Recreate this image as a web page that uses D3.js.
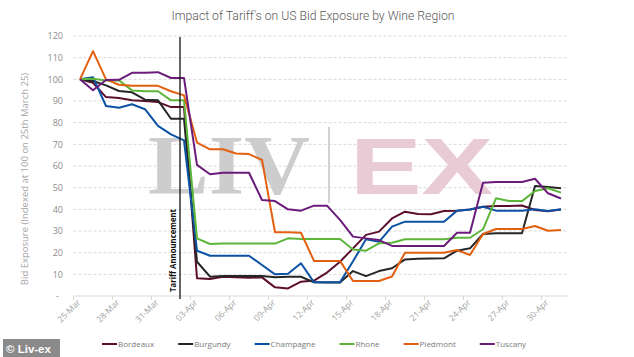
<!DOCTYPE html>
<html><head><meta charset="utf-8">
<script src="https://cdn.jsdelivr.net/npm/d3@7"></script>
<style>body{margin:0;background:#fff;overflow:hidden}</style>
</head><body><svg id="c" width="634" height="357"></svg>
<script>
const dates = ["25-Mar","26-Mar","27-Mar","28-Mar","29-Mar","30-Mar","31-Mar",
  "01-Apr","02-Apr","03-Apr","04-Apr","05-Apr","06-Apr","07-Apr","08-Apr","09-Apr","10-Apr",
  "11-Apr","12-Apr","13-Apr","14-Apr","15-Apr","16-Apr","17-Apr","18-Apr","19-Apr","20-Apr",
  "21-Apr","22-Apr","23-Apr","24-Apr","25-Apr","26-Apr","27-Apr","28-Apr","29-Apr","30-Apr","01-May"];
const tickLabels = ["25-Mar","28-Mar","31-Mar","03-Apr","06-Apr","09-Apr","12-Apr","15-Apr","18-Apr","21-Apr","24-Apr","27-Apr","30-Apr"];
const yTicks = [0,10,20,30,40,50,60,70,80,90,100,110,120];
const seriesNames = ["Bordeaux","Burgundy","Champagne","Rhone","Piedmont","Tuscany"];
const seriesColors = ["#5b0e2d","#262626","#0b52a3","#5db53a","#e2600f","#6b1c7b"];
const tariffDate = "02-Apr";
const tariffLabel = "Tariff Announcement";

const bordeaux  = [100,98.4,91.8,91.4,90.3,90,89.5,87.2,87.2,8.2,7.8,8.9,8.6,8.4,8.6,4,3.5,6.6,7.1,10.8,15.8,22,28.2,29.7,35.8,38.9,37.8,37.7,39.2,39.4,39.9,41.2,41.5,41.5,41.8,39.7,39.1,39.9];
const burgundy  = [100,99.2,97.2,94.6,94,90.6,90.3,81.8,81.8,15.8,8.9,9.2,9.2,9.2,9.2,8.6,8.9,8.9,6.3,6.2,6.2,11.5,9.2,11.5,12.8,16.9,17.2,17.3,17.4,20.9,22,28.6,29,29,29,50.8,50.3,49.7];
const champagne = [100,101,87.7,86.9,88.5,86.2,78.5,74.6,71.8,20.9,18.6,18.6,18.6,18.6,14.3,10,10.3,15.1,6.3,6.3,6.3,16,26.2,25,32,34.3,34.3,34.3,34.3,39.4,39.9,41.2,39.4,39.4,39.4,40,39.2,40];
const rhone     = [100,100.3,99.5,99.5,94.9,94.5,94.5,90.3,90.3,26.6,24,24.2,24.2,24.2,24.2,24.2,26.6,26.3,26.3,26.3,26.3,21.5,20.9,24.3,24.6,26.2,26.2,26.2,26.2,26.9,26.9,30.8,45.1,43.8,43.8,48.5,49.7,47.7];
const piedmont  = [100,113,100,97.5,97,97,97,94.5,92.6,70.8,67.7,67.7,65.8,65.5,62.8,29.4,29.4,29.2,16.2,16.2,16.2,6.9,6.9,6.9,9,20,20,20,20,21.2,18.9,28.6,30.9,30.9,30.9,32.3,30.1,30.5];
const tuscany   = [100,95,99.7,99.8,103,103,103.3,100.6,100.6,60.5,56.2,56.9,56.9,56.9,44.3,43.8,40,39.4,41.7,41.7,35.1,27.4,26.6,25.8,23.1,23.1,23.1,23.1,23.1,29.2,29.2,52.3,52.6,52.6,52.6,54.1,47.4,45];
const seriesValues = [bordeaux,burgundy,champagne,rhone,piedmont,tuscany];

const svg = d3.select("#c");
const x = d3.scaleBand().domain(dates).range([73.5, 567.5]).paddingInner(0).paddingOuter(0);
const y = d3.scaleLinear().domain([0,120]).range([296,36]);
const cx = d => x(d) + x.bandwidth()/2;
const gridRight = 569;

// title
svg.append("text").attr("x",313).attr("y",20).attr("text-anchor","middle")
  .attr("font-family","Roboto, 'Open Sans', sans-serif").attr("font-weight",300)
  .attr("font-size",13).attr("fill","#595959")
  .attr("textLength",283).attr("lengthAdjust","spacingAndGlyphs")
  .text("Impact of Tariff's on US Bid Exposure by Wine Region");

// gridlines
svg.append("g").selectAll("line").data(yTicks.filter(t=>t>0)).join("line")
  .attr("x1",73.5).attr("x2",gridRight).attr("y1",d=>y(d)).attr("y2",d=>y(d))
  .attr("stroke","#d9d9d9").attr("stroke-width",1).attr("stroke-dasharray","3,2");

// watermark
const wm = svg.append("g");
wm.append("text").attr("x",148).attr("y",194)
  .attr("font-family","'Liberation Serif', 'DejaVu Serif', serif").attr("font-weight","bold")
  .attr("font-size",84).attr("fill","#cdcdcd")
  .attr("textLength",162).attr("lengthAdjust","spacingAndGlyphs").text("LIV");
wm.append("line").attr("x1",329).attr("x2",329).attr("y1",127).attr("y2",203)
  .attr("stroke","#d2d2d2").attr("stroke-width",2);
wm.append("text").attr("x",350).attr("y",194)
  .attr("font-family","'Liberation Sans', Arial, sans-serif").attr("font-weight","bold")
  .attr("font-size",80).attr("fill","#e9cbd6")
  .attr("textLength",143).attr("lengthAdjust","spacingAndGlyphs").text("EX");

// y axis labels
const yAxis = d3.axisLeft(y).tickValues(yTicks).tickSize(0).tickPadding(0)
  .tickFormat(d => d === 0 ? "-" : d3.format("d")(d));
const ya = svg.append("g").attr("transform","translate(63,0)").call(yAxis);
ya.select(".domain").remove();
ya.selectAll("text").attr("font-family","'Open Sans', sans-serif").attr("font-size",9)
  .attr("fill","#8c8c8c").attr("dx", d => d===0 ? -4 : 0);

// y title
svg.append("text").attr("transform","translate(28,179) rotate(-90)").attr("text-anchor","middle")
  .attr("font-family","'Open Sans', sans-serif").attr("font-size",9.5).attr("fill","#a6a6a6")
  .text("Bid Exposure (Indexed at 100 on 25th March 25)");

// x axis
svg.append("line").attr("x1",73.5).attr("x2",gridRight).attr("y1",y(0)).attr("y2",y(0))
  .attr("stroke","#d9d9d9").attr("stroke-width",1);
const xa = svg.append("g");
xa.selectAll("line").data(tickLabels).join("line")
  .attr("x1",d=>x(d)).attr("x2",d=>x(d)).attr("y1",y(0)).attr("y2",y(0)+4)
  .attr("stroke","#d9d9d9");
xa.selectAll("text").data(tickLabels).join("text")
  .attr("transform",d=>`translate(${cx(d)+1},${y(0)+7}) rotate(-45)`)
  .attr("text-anchor","end").attr("font-family","'Open Sans', sans-serif")
  .attr("font-size",8.5).attr("fill","#a0a0a0").text(d=>d);

// lines
const line = d3.line().x((d,i)=>cx(dates[i])).y(d=>y(d));
svg.append("g").selectAll("path").data(seriesValues).join("path")
  .attr("d",d=>line(d)).attr("fill","none")
  .attr("stroke",(d,i)=>seriesColors[i]).attr("stroke-width",2)
  .attr("stroke-linejoin","round");

// tariff announcement
const tx = x(tariffDate) + 2.5;
svg.append("line").attr("x1",tx).attr("x2",tx).attr("y1",y(120)+1).attr("y2",y(0)+3)
  .attr("stroke","#111").attr("stroke-width",1.3);
svg.append("text").attr("transform",`translate(${tx-4},${y(0)-4}) rotate(-90)`)
  .attr("font-family","'Open Sans', sans-serif").attr("font-weight","bold")
  .attr("font-size",8.5).attr("fill","#111")
  .attr("textLength",83).attr("lengthAdjust","spacingAndGlyphs").text(tariffLabel);

// legend
const lg = svg.append("g");
let lx = 102;
seriesNames.forEach((n,i)=>{
  lg.append("line").attr("x1",lx).attr("x2",lx+15).attr("y1",344).attr("y2",344)
    .attr("stroke",seriesColors[i]).attr("stroke-width",2);
  const t = lg.append("text").attr("x",lx+16).attr("y",347)
    .attr("font-family","'Open Sans', sans-serif").attr("font-size",8).attr("fill","#7a7a7a").text(n);
  lx += 16 + t.node().getComputedTextLength() + 24;
});

// copyright box
svg.append("rect").attr("x",3).attr("y",339).attr("width",57).attr("height",18).attr("fill","#8a8a8a");
svg.append("text").attr("x",6).attr("y",352.5).attr("font-family","'Liberation Sans', Arial, sans-serif")
  .attr("font-size",11.5).attr("font-weight","bold").attr("fill","#fff").text("© Liv-ex");
</script></body></html>
